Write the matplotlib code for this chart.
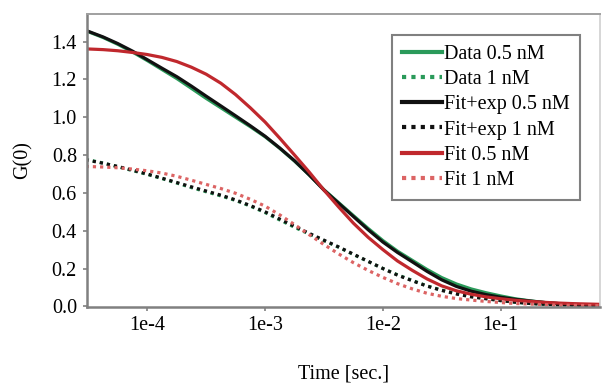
import matplotlib
matplotlib.use("Agg")
import matplotlib.pyplot as plt

plt.rcParams['font.family'] = ['Liberation Serif', 'DejaVu Serif']

# time [sec.]
time_s = [3.0e-5, 4.22e-5, 5.62e-5, 7.5e-5,
          1e-4, 1.33e-4, 1.78e-4, 2.37e-4, 3.16e-4, 4.22e-4, 5.62e-4, 7.5e-4,
          1e-3, 1.33e-3, 1.78e-3, 2.37e-3, 3.16e-3, 4.22e-3, 5.62e-3, 7.5e-3,
          1e-2, 1.33e-2, 1.78e-2, 2.37e-2, 3.16e-2, 4.22e-2, 5.62e-2, 7.5e-2,
          1e-1, 1.33e-1, 1.78e-1, 2.37e-1, 3.16e-1, 4.22e-1, 5.62e-1, 7.5e-1,
          1.0]

fitexp_05 = [1.46, 1.425, 1.39, 1.35,
             1.305, 1.26, 1.215, 1.165, 1.112, 1.06, 1.008, 0.955,
             0.90, 0.838, 0.77, 0.695, 0.615, 0.545, 0.475, 0.405,
             0.34, 0.285, 0.235, 0.185, 0.14, 0.105, 0.08, 0.062,
             0.048, 0.037, 0.028, 0.02, 0.014, 0.01, 0.007, 0.005,
             0.004]
data_05 = [1.458, 1.422, 1.386, 1.345,
           1.30, 1.253, 1.205, 1.153, 1.10, 1.05, 1.0, 0.95,
           0.897, 0.836, 0.768, 0.695, 0.617, 0.548, 0.48, 0.412,
           0.348, 0.292, 0.243, 0.195, 0.152, 0.118, 0.092, 0.072,
           0.055, 0.04, 0.029, 0.02, 0.014, 0.01, 0.007, 0.005,
           0.004]
fit_05 = [1.362, 1.358, 1.352, 1.343,
          1.332, 1.317, 1.295, 1.265, 1.228, 1.18, 1.12, 1.05,
          0.975, 0.89, 0.80, 0.71, 0.615, 0.525, 0.44, 0.365,
          0.30, 0.24, 0.19, 0.145, 0.108, 0.082, 0.064, 0.05,
          0.04, 0.032, 0.026, 0.021, 0.017, 0.014, 0.012, 0.01,
          0.009]
fitexp_1 = [0.775, 0.757, 0.74, 0.72,
            0.70, 0.678, 0.655, 0.632, 0.61, 0.588, 0.563, 0.533,
            0.50, 0.462, 0.423, 0.386, 0.35, 0.314, 0.276, 0.238,
            0.20, 0.165, 0.135, 0.107, 0.084, 0.065, 0.05, 0.04,
            0.03, 0.022, 0.015, 0.011, 0.008, 0.006, 0.005, 0.004,
            0.004]
data_1 = [0.778, 0.758, 0.738, 0.718,
          0.698, 0.676, 0.652, 0.628, 0.606, 0.584, 0.56, 0.53,
          0.496, 0.457, 0.418, 0.382, 0.347, 0.312, 0.274, 0.237,
          0.20, 0.167, 0.137, 0.108, 0.086, 0.068, 0.053, 0.042,
          0.031, 0.022, 0.015, 0.011, 0.008, 0.006, 0.005, 0.004,
          0.004]
fit_1 = [0.74, 0.737, 0.733, 0.726,
         0.717, 0.705, 0.688, 0.667, 0.645, 0.623, 0.598, 0.566,
         0.53, 0.484, 0.432, 0.379, 0.327, 0.277, 0.231, 0.19,
         0.153, 0.12, 0.092, 0.069, 0.053, 0.041, 0.033, 0.026,
         0.02, 0.015, 0.012, 0.009, 0.006, 0.005, 0.004, 0.003,
         0.002]

xticks = [1e-4, 1e-3, 1e-2, 1e-1]
xtick_labels = ["1e-4", "1e-3", "1e-2", "1e-1"]
yticks = [0.0, 0.2, 0.4, 0.6, 0.8, 1.0, 1.2, 1.4]

GREEN = "#2a9a5a"
BLACK = "#111111"
RED = "#c0282d"
RED_DOT = "#dc6464"

fig = plt.figure(figsize=(6.02, 3.84), dpi=100)
ax = fig.add_axes([0.144, 0.2013, 0.8527, 0.7635])

lw = 2.3
dot = (0, (1, 1.25))
ax.plot(time_s, data_05, color=GREEN, lw=lw, label="Data 0.5 nM")
ax.plot(time_s, data_1, color=GREEN, lw=lw, ls=dot, label="Data 1 nM")
ax.plot(time_s, fitexp_05, color=BLACK, lw=lw, label="Fit+exp 0.5 nM")
ax.plot(time_s, fitexp_1, color=BLACK, lw=lw, ls=dot, label="Fit+exp 1 nM")
ax.plot(time_s, fit_05, color=RED, lw=lw, label="Fit 0.5 nM")
ax.plot(time_s, fit_1, color=RED_DOT, lw=lw, ls=dot, label="Fit 1 nM")

ax.set_xscale("log")
ax.set_xlim(3.06e-5, 0.697)
ax.set_ylim(-0.002, 1.549)
ax.set_xticks(xticks)
ax.set_xticklabels(xtick_labels)
ax.minorticks_off()
ax.set_yticks(yticks)
ax.set_yticklabels([f"{v:.1f}" for v in yticks])

for side in ["left", "bottom"]:
    ax.spines[side].set_color("#808080")
    ax.spines[side].set_linewidth(1.8)
ax.spines["top"].set_color("#a0a0a0")
ax.spines["top"].set_linewidth(1.4)
ax.spines["right"].set_color("#d0d0d0")
ax.spines["right"].set_linewidth(1.2)

ax.tick_params(axis="both", direction="out", length=3, width=1.2, color="#808080",
               labelsize=14.5, pad=4)

ax.set_xlabel("Time [sec.]", fontsize=14.5, labelpad=21)
ax.set_ylabel("G(0)", fontsize=14.5, labelpad=14)

leg = ax.legend(loc="upper right", bbox_to_anchor=(0.961, 0.927), borderaxespad=0,
                fontsize=14.5, handlelength=2.0, handletextpad=0.1, labelspacing=0.3,
                borderpad=0.5, fancybox=False, framealpha=1)
leg.get_frame().set_edgecolor("#808080")
leg.get_frame().set_linewidth(1.5)
for line in leg.get_lines():
    line.set_linewidth(3.0)

fig.savefig("out.png", dpi=100)
